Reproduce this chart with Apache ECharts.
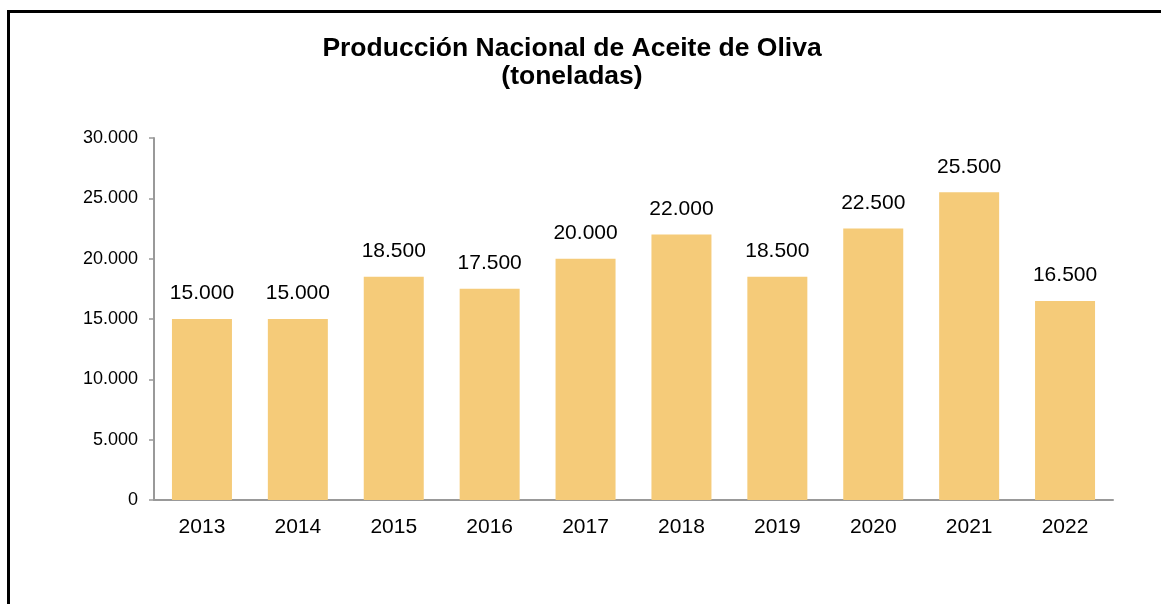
<!DOCTYPE html>
<html>
<head>
	<meta charset="utf-8">
	<title>Producción Nacional de Aceite de Oliva</title>
	<script src="https://cdn.jsdelivr.net/npm/echarts@6/dist/echarts.min.js"></script>
	<style>
		html, body { margin: 0; padding: 0; background: #fff; overflow: hidden; }
		#chart { position: absolute; left: 0; top: 0; width: 1161px; height: 604px; }
		#marco { position: absolute; left: 7px; top: 10px; width: 2000px; height: 2000px;
			border-left: 3px solid #000; border-top: 3px solid #000; pointer-events: none; }
	</style>
</head>
<body>
<div id="chart"></div>
<div id="marco"></div>
<script>
	// datos
	var anios = ['2013', '2014', '2015', '2016', '2017', '2018', '2019', '2020', '2021', '2022'];
	var toneladas = [15000, 15000, 18500, 17500, 20000, 22000, 18500, 22500, 25500, 16500];
	var ejeY = { min: 0, max: 30000, interval: 5000 };

	// 15000 -> "15.000"
	function miles(v){
		return String(v).replace(/\B(?=(\d{3})+(?!\d))/g, '.');
	}

	var fuente = 'Liberation Sans, Arial, sans-serif';
	var chart = echarts.init(document.getElementById('chart'));
	chart.setOption({
		animation: false,
		title: {
			text: 'Producción Nacional de Aceite de Oliva\n(toneladas)',
			left: 572,
			top: 35,
			padding: 0,
			textAlign: 'center',
			textStyle: {
				fontFamily: fuente,
				fontSize: 26.5,
				fontWeight: 'bold',
				color: '#000',
				lineHeight: 28
			}
		},
		grid: {
			left: 154,
			right: 48,
			top: 138,
			bottom: 104,
			containLabel: false
		},
		xAxis: {
			type: 'category',
			data: anios,
			axisLine: { lineStyle: { color: '#999', width: 2 } },
			axisTick: { show: false },
			axisLabel: {
				margin: 17,
				fontFamily: fuente,
				fontSize: 21,
				color: '#000'
			}
		},
		yAxis: {
			type: 'value',
			min: ejeY.min,
			max: ejeY.max,
			interval: ejeY.interval,
			splitLine: { show: false },
			axisLine: { show: true, lineStyle: { color: '#999', width: 2 } },
			axisTick: { show: true, length: 5, lineStyle: { color: '#999', width: 1.5 } },
			axisLabel: {
				margin: 16,
				fontFamily: fuente,
				fontSize: 18,
				color: '#000',
				formatter: miles
			}
		},
		series: [{
			type: 'bar',
			data: toneladas,
			barWidth: 60,
			itemStyle: { color: '#F5CB79' },
			label: {
				show: true,
				position: 'top',
				distance: 15,
				fontFamily: fuente,
				fontSize: 21,
				color: '#000',
				formatter: function(p){ return miles(p.value); }
			}
		}]
	});
	window.onresize = chart.resize;
</script>
</body>
</html>
